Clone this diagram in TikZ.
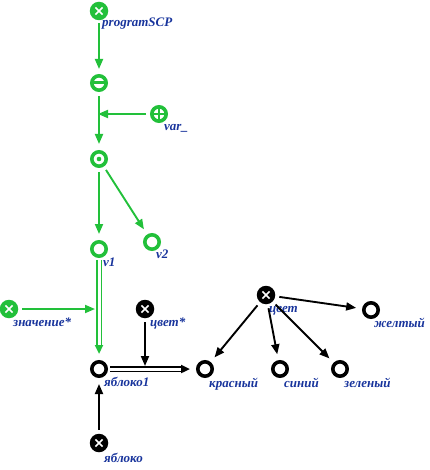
\documentclass[tikz,border=0pt]{standalone}
\usepackage{fontspec}
\setmainfont{Liberation Serif}
\usetikzlibrary{arrows.meta,calc}
\definecolor{scgreen}{RGB}{34,192,58}
\definecolor{sclab}{RGB}{24,52,156}
\begin{document}
\begin{tikzpicture}[x=1pt,y=-1pt,
  ring/.style={circle,draw=#1,line width=3.6pt,fill=white,minimum size=14.4pt,inner sep=0pt},
  ring/.default=black,
  barnode/.style={ring=scgreen,path picture={
    \draw[scgreen,line width=3pt] (path picture bounding box.west) -- (path picture bounding box.east);}},
  plusnode/.style={ring=scgreen,path picture={
    \draw[scgreen,line width=2.4pt] (path picture bounding box.west) -- (path picture bounding box.east)
      (path picture bounding box.north) -- (path picture bounding box.south);}},
  dotnode/.style={ring=scgreen,path picture={
    \fill[scgreen] (path picture bounding box.center) circle (2.3pt);}},
  xnode/.style={circle,fill=#1,minimum size=18.5pt,inner sep=0pt,path picture={
    \draw[white,line width=1.7pt]
      ([shift={(-3.6pt,-3.6pt)}]path picture bounding box.center) -- ([shift={(3.6pt,3.6pt)}]path picture bounding box.center)
      ([shift={(-3.6pt,3.6pt)}]path picture bounding box.center) -- ([shift={(3.6pt,-3.6pt)}]path picture bounding box.center);}},
  lab/.style={anchor=base west,inner sep=0pt,text=sclab,font=\fontsize{13}{15}\selectfont\bfseries\itshape},
  arr/.style={draw=#1,line width=1.9pt,-{Triangle[length=10pt,width=8pt]},shorten <=4pt,shorten >=6pt},
  arr/.default=black,
  % wide band of a double connector, with its tip
  dblout/.style={draw=#1,line width=6.6pt,-{Triangle[length=9pt,width=8pt]},shorten <=2pt,shorten >=6pt},
  % white core of a double connector
  dblin/.style={draw=white,line width=3pt,shorten <=2pt,shorten >=15pt}
]
\useasboundingbox (0,0) rectangle (429,470);

% program structure (green)
\node[xnode=scgreen] (pS) at (99,11) {};
\node[barnode] (n2) at (99,83) {};
\node[plusnode] (var) at (159,114) {};
\node[dotnode] (n3) at (99,159) {};
\node[ring=scgreen] (v1) at (99,249) {};
\node[ring=scgreen] (v2) at (152,242) {};
\node[xnode=scgreen] (zn) at (9,309) {};

% subject area (black)
\node[ring] (yab1) at (99,369) {};
\node[xnode=black] (cvs) at (145,309) {};
\node[xnode=black] (cvet) at (266,295) {};
\node[ring] (kr) at (205,369) {};
\node[ring] (sin) at (280,369) {};
\node[ring] (zel) at (340,369) {};
\node[ring] (zh) at (371,310) {};
\node[xnode=black] (yab) at (99,443) {};

% labels
\node[lab] (l-pS) at (102,27) {programSCP};
\node[lab] (l-var) at (164,131) {var\_};
\node[lab] (l-v1) at (103,266) {v1};
\node[lab] (l-v2) at (156,258) {v2};
\node[lab] (l-zn) at (13,326) {значение*};
\node[lab] (l-yab1) at (104,386) {яблоко1};
\node[lab] (l-cvs) at (150,326) {цвет*};
\node[lab] (l-cvet) at (269,312) {цвет};
\node[lab] (l-zh) at (374,327) {желтый};
\node[lab] (l-kr) at (209,387) {красный};
\node[lab] (l-sin) at (284,387) {синий};
\node[lab] (l-zel) at (344,387) {зеленый};
\node[lab] (l-yab) at (104,462) {яблоко};

% junction points on connectors
\coordinate (j1) at (n2 |- var);
\coordinate (j2) at (v1 |- zn);
\coordinate (j3) at (cvs |- yab1);

% double connectors
\draw[dblout=scgreen] (v1) -- (yab1);
\draw[dblin] (v1) -- (yab1);
\draw[dblout=black] (yab1) -- (kr);
\draw[dblin] (yab1) -- (kr);

% single connectors
\draw[arr=scgreen,shorten <=3pt,shorten >=5pt] (pS) -- (n2);
\draw[arr=scgreen] (n2) -- (n3);
\draw[arr=scgreen,shorten >=-1pt] (var) -- (j1);
\draw[arr=scgreen] (n3) -- (v1);
\draw[arr=scgreen] (n3) -- (v2);
\draw[arr=scgreen,shorten >=4pt] (zn) -- (j2);
\draw[arr,shorten >=3pt] (cvs) -- (j3);
\draw[arr] (yab) -- (yab1);
\draw[arr] (cvet) -- (kr);
\draw[arr] (cvet) -- (sin);
\draw[arr] (cvet) -- (zel);
\draw[arr] (cvet) -- (zh);
\end{tikzpicture}
\end{document}
